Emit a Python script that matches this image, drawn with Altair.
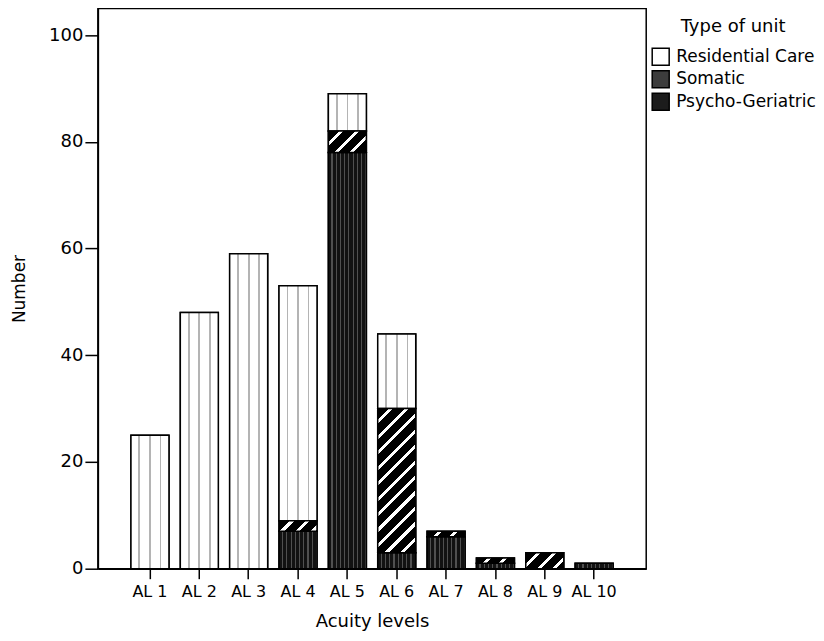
import altair as alt
import pandas as pd

# ---------------- data ----------------
levels = ["AL 1", "AL 2", "AL 3", "AL 4", "AL 5", "AL 6", "AL 7", "AL 8", "AL 9", "AL 10"]
residential = [25, 48, 59, 44, 7, 14, 0, 0, 0, 0]
somatic = [0, 0, 0, 2, 4, 27, 1, 1, 3, 0]
psycho = [0, 0, 0, 7, 78, 3, 6, 1, 0, 1]
unit_types = ["Residential Care", "Somatic", "Psycho-Geriatric"]
y_ticks = [0, 20, 40, 60, 80, 100]

# ---------------- layout / style ----------------
PLOT_W, PLOT_H = 549, 561
Y_MAX = 105
PAD_IN, PAD_OUT = 0.23, 0.67
STEP = PLOT_W / (len(levels) - PAD_IN + 2 * PAD_OUT)
BAR_W = STEP * (1 - PAD_IN)
PX_PER_UNIT = PLOT_H / Y_MAX
FONT = "DejaVu Sans"

rows = []
for i, lvl in enumerate(levels):
    base = 0
    for t, arr in [("Psycho-Geriatric", psycho), ("Somatic", somatic), ("Residential Care", residential)]:
        v = arr[i]
        if v > 0:
            rows.append({"level": lvl, "unit": t, "value": v, "y0": base, "y1": base + v})
        base += v
df = pd.DataFrame(rows)

# Residential care: white with dotted vertical lines (approximated by thin grey columns)
rc_stops = []
for c in [0.22, 0.5, 0.78]:
    rc_stops += [
        {"offset": c - 0.022, "color": "white"},
        {"offset": c - 0.022, "color": "#b4b4b4"},
        {"offset": c + 0.022, "color": "#b4b4b4"},
        {"offset": c + 0.022, "color": "white"},
    ]
rc_grad = {"gradient": "linear", "x1": 0, "y1": 0, "x2": 1, "y2": 0,
           "stops": [{"offset": 0, "color": "white"}] + rc_stops + [{"offset": 1, "color": "white"}]}

# Psycho-geriatric: black with fine dots (approximated by faint columns)
ps_stops = []
ncol = 9
for k in range(ncol):
    a = k / ncol
    b = (k + 0.72) / ncol
    c = (k + 1) / ncol
    ps_stops += [
        {"offset": a, "color": "#121212"},
        {"offset": b, "color": "#121212"},
        {"offset": b, "color": "#505050"},
        {"offset": c, "color": "#505050"},
    ]
ps_grad = {"gradient": "linear", "x1": 0, "y1": 0, "x2": 1, "y2": 0, "stops": ps_stops}

# Somatic: black with white diagonal stripes, constant pixel period
Q = 15.5
N = 16
WHITE = 0.27
so_stops = []
for k in range(N):
    a = k / N
    b = (k + 1 - WHITE) / N
    c = (k + 1) / N
    so_stops += [(a, "#000000"), (b, "#000000"), (b, "#ffffff"), (c, "#ffffff")]
stops_js = "[" + ",".join("{'offset':%.5f,'color':'%s'}" % s for s in so_stops) + "]"
h_js = "(datum.value*%.5f)" % PX_PER_UNIT
den_js = "(%.5f+%s*%s)" % (BAR_W * BAR_W, h_js, h_js)
alpha_js = "(%.5f/%s)" % (Q * N, den_js)
so_expr = ("{'gradient':'linear','x1':0,'y1':0,'x2':%s*%.5f,'y2':%s*%s,'stops':%s}"
           % (alpha_js, BAR_W, alpha_js, h_js, stops_js))

base = alt.Chart(df).encode(
    x=alt.X(
        "level:N",
        sort=levels,
        scale=alt.Scale(paddingInner=PAD_IN, paddingOuter=PAD_OUT),
        axis=alt.Axis(
            title="Acuity levels", labelAngle=0, labelFontSize=16, tickSize=10,
            labelPadding=5, titleFontSize=18, titlePadding=13,
        ),
    ),
    y=alt.Y(
        "y0:Q",
        scale=alt.Scale(domain=[0, Y_MAX], nice=False),
        axis=alt.Axis(
            title="Number", values=y_ticks, labelFontSize=18, tickSize=13,
            labelPadding=2, titleFontSize=17, titlePadding=20,
        ),
    ),
    y2="y1:Q",
)

legend_layer = base.mark_bar(stroke="black", strokeWidth=1.5).encode(
    color=alt.Color(
        "unit:N",
        scale=alt.Scale(domain=unit_types, range=["#ffffff", "#3c3c3c", "#1c1c1c"]),
        legend=alt.Legend(
            title="Type of unit", orient="none", legendX=554, legendY=10,
            titleAnchor="middle", titleFontSize=18, titleFontWeight="normal",
            labelFontSize=17, symbolType="square", symbolSize=289,
            symbolStrokeColor="black", symbolStrokeWidth=1.5,
            rowPadding=-0.5, labelOffset=6, titlePadding=11, padding=0,
        ),
    )
)

rc_layer = base.transform_filter(alt.datum.unit == "Residential Care").mark_bar(
    fill=rc_grad, stroke="black", strokeWidth=1.5
)
ps_layer = base.transform_filter(alt.datum.unit == "Psycho-Geriatric").mark_bar(
    fill=ps_grad, stroke="black", strokeWidth=1.5
)
so_layer = (
    base.transform_filter(alt.datum.unit == "Somatic")
    .transform_calculate(grad=so_expr)
    .mark_bar(stroke="black", strokeWidth=1.5)
    .encode(fill=alt.Fill("grad:N", scale=None, legend=None))
)

chart = (
    alt.layer(legend_layer, rc_layer, ps_layer, so_layer)
    .properties(
        width=PLOT_W,
        height=PLOT_H,
        padding={"left": 90, "top": 0, "right": 170, "bottom": 64},
        autosize=alt.AutoSizeParams(type="none"),
        background="white",
    )
    .configure(font=FONT)
    .configure_view(stroke="black", strokeWidth=1.5)
    .configure_axis(
        grid=False, domainColor="black", tickColor="black", labelColor="black",
        titleColor="black", domainWidth=1.5, tickWidth=1.5, titleFontWeight="normal",
    )
    .configure_legend(labelColor="black", titleColor="black")
)

chart.save("out.html", embed_options={"renderer": "svg", "actions": False})
